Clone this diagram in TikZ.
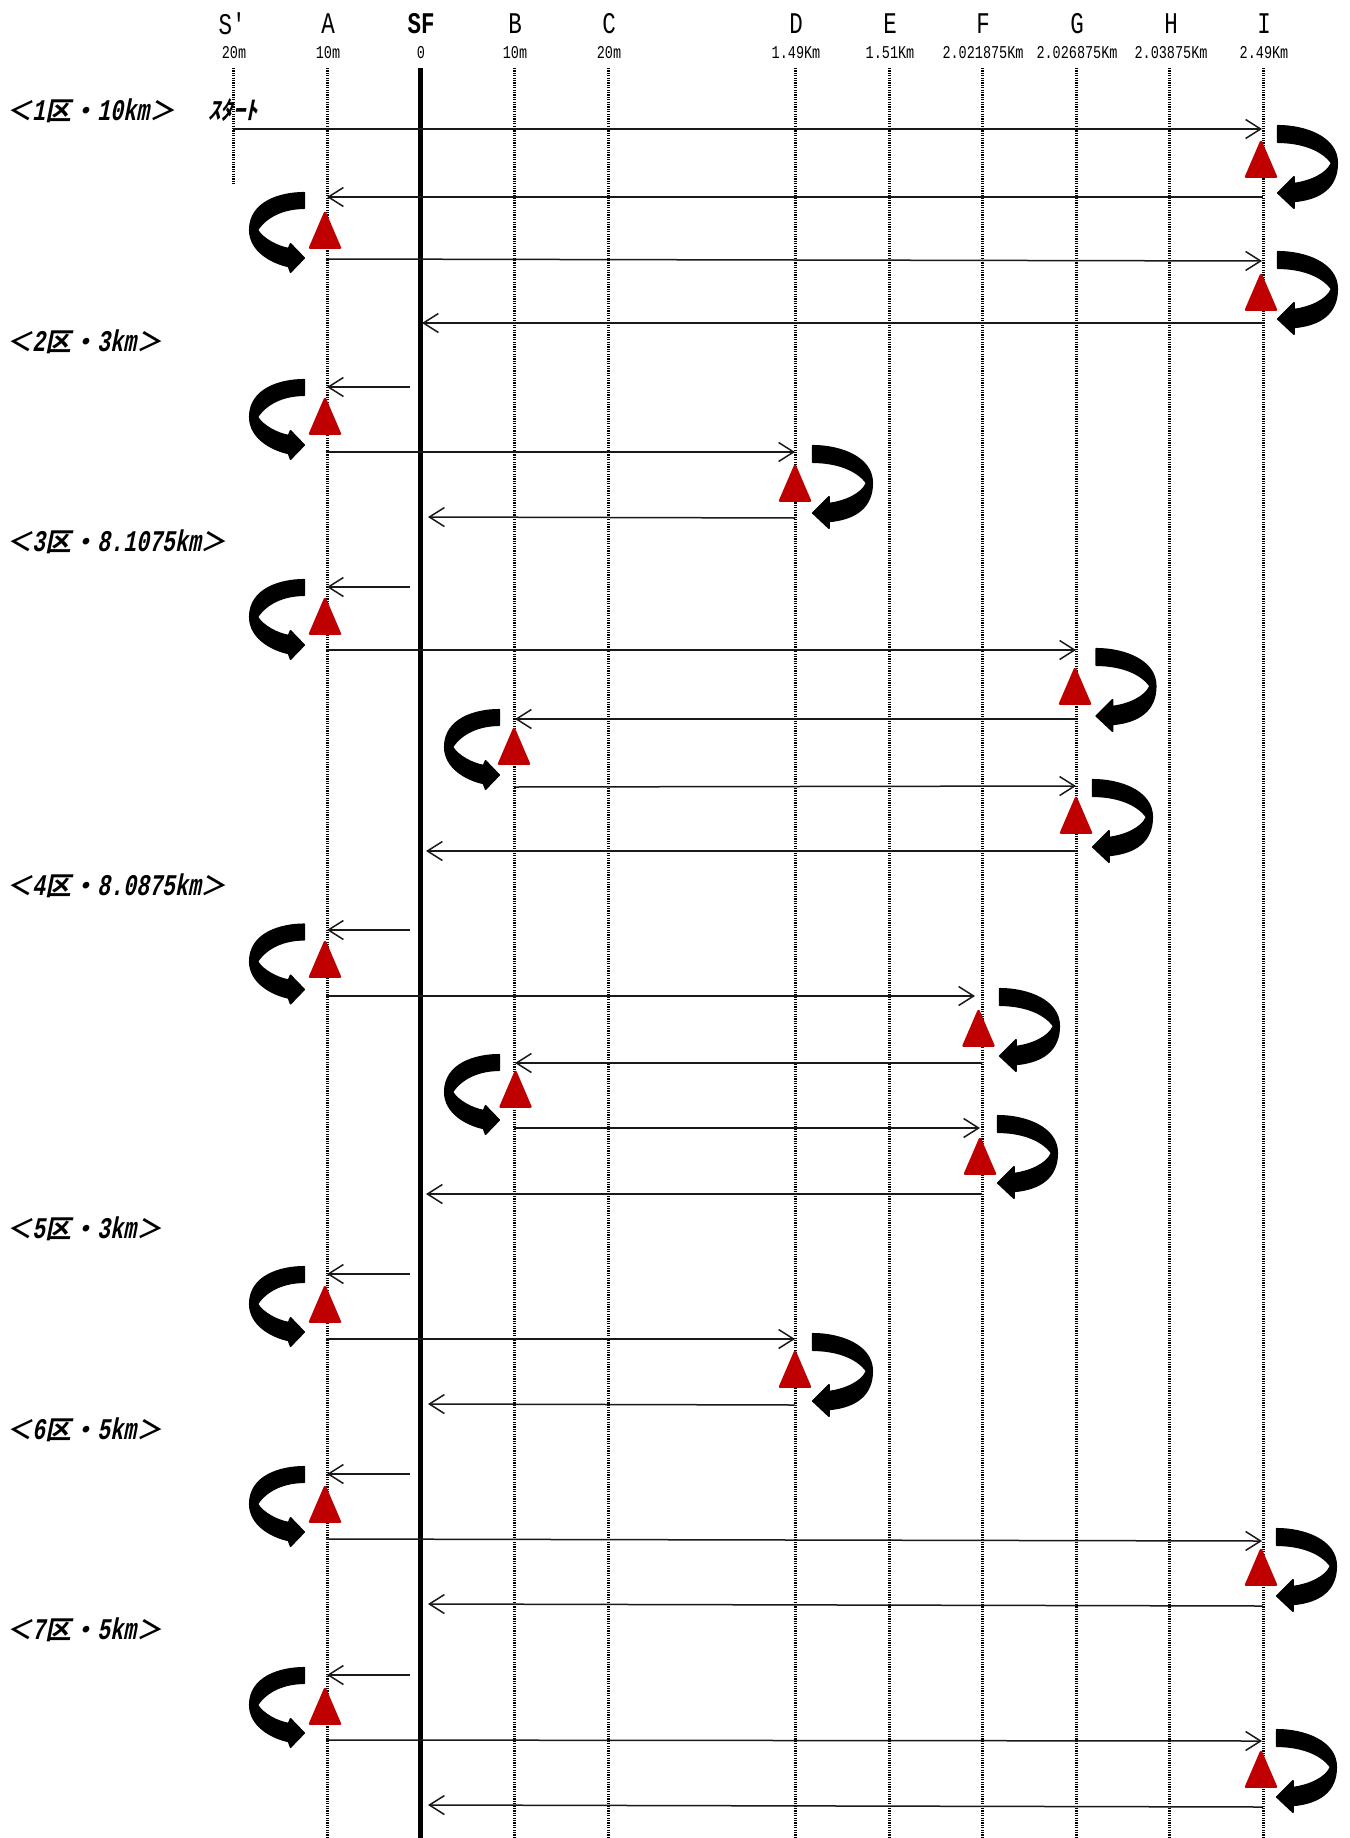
\documentclass[tikz,border=0pt]{standalone}
\usepackage{fontspec}
\usetikzlibrary{arrows.meta}
\newfontfamily\hdfont[FakeStretch=0.75]{Liberation Mono}
\newfontfamily\hdbold[FakeStretch=0.75]{Liberation Mono Bold}
\newfontfamily\seclat[FakeStretch=0.72,FakeSlant=0.2]{Liberation Mono Bold}
\newfontfamily\secjp[FakeSlant=0.2]{Noto Sans CJK JP Bold}
\newcommand{\secl}[2]{{\fontsize{26}{26}\selectfont\secjp ＜}{\fontsize{30}{30}\selectfont\seclat #1}{\fontsize{26}{26}\selectfont\secjp 区・}{\fontsize{30}{30}\selectfont\seclat #2}{\fontsize{26}{26}\selectfont\secjp ＞}}
\definecolor{tricol}{HTML}{C00000}
\tikzset{
  axisline/.style={line width=3pt,dash pattern=on 1.2pt off 1.2pt,black},
  sfline/.style={line width=5pt,black},
  conn/.style={line width=1.5pt,draw=black!90,-{Straight Barb[length=15pt,width=19pt,line width=1.5pt]}},
  headtxt/.style={font=\hdfont\fontsize{30}{30}\selectfont,inner sep=0pt,anchor=center},
  headbold/.style={font=\hdbold\fontsize{30}{30}\selectfont,inner sep=0pt,anchor=center},
  subtxt/.style={font=\hdfont\fontsize{18}{18}\selectfont,inner sep=0pt,anchor=center},
  sectxt/.style={inner sep=0pt,anchor=west},
  starttxt/.style={inner sep=0pt,anchor=center,font=\secjp\fontsize{25}{25}\selectfont},
  uturn/.style={fill=black,draw=black,line width=1.5pt,line join=round},
  triangle/.pic={\fill[fill=tricol,draw=tricol,line width=2.5pt,line join=round] (0,1)--(-14.9,35.7)--(14.9,35.7)--cycle;},
  uright/.pic={\path[uturn] (0.7,0.7) .. controls (28,0.7) and (60.3,12) .. (60.3,38) .. controls (60.3,62) and (44,74) .. (17,76.5) -- (17,83.3) -- (0.7,68) -- (17,51.7) -- (17,58.5) .. controls (33,56.5) and (50,49) .. (54.5,38) .. controls (44,23.5) and (22,17.3) .. (0.7,17.3) -- cycle;},
  uleft/.pic={\path[uturn] (-0.7,0.7) .. controls (-25,0.7) and (-55.3,10) .. (-55.3,38) .. controls (-55.3,58) and (-35,70.5) .. (-16.5,74.5) -- (-14.5,80.3) -- (-0.7,66) -- (-14.5,51.7) -- (-16.5,56.5) .. controls (-28,54.5) and (-42,47) .. (-47.5,38) .. controls (-38,23.5) and (-20,16.3) .. (-0.7,16.3) -- cycle;}
}
\newcommand{\arr}[5]{\coordinate (#1s) at (#2,#3); \coordinate (#1e) at (#4,#5); \draw[conn] (#1s) -- (#1e);}
\begin{document}
\begin{tikzpicture}[x=1pt,y=-1pt]
\useasboundingbox (0,0) rectangle (1349,1838);
\fill[white] (0,0) rectangle (1349,1838);
% headers
\node[headtxt] (hS) at (232,24) {S'};
\node[headtxt] (hA) at (328,24) {A};
\node[headbold] (hSF) at (421,24) {SF};
\node[headtxt] (hB) at (515,24) {B};
\node[headtxt] (hC) at (609,24) {C};
\node[headtxt] (hD) at (796,24) {D};
\node[headtxt] (hE) at (890,24) {E};
\node[headtxt] (hF) at (983,24) {F};
\node[headtxt] (hG) at (1077,24) {G};
\node[headtxt] (hH) at (1171,24) {H};
\node[headtxt] (hI) at (1264,24) {I};
\node[subtxt] (dS) at (234,53) {20m};
\node[subtxt] (dA) at (328,53) {10m};
\node[subtxt] (dSF) at (421,53) {0};
\node[subtxt] (dB) at (515,53) {10m};
\node[subtxt] (dC) at (609,53) {20m};
\node[subtxt] (dD) at (796,53) {1.49Km};
\node[subtxt] (dE) at (890,53) {1.51Km};
\node[subtxt] (dF) at (983,53) {2.021875Km};
\node[subtxt] (dG) at (1077,53) {2.026875Km};
\node[subtxt] (dH) at (1171,53) {2.03875Km};
\node[subtxt] (dI) at (1264,53) {2.49Km};
% axes
\coordinate (tS) at (233.5,68); \coordinate (bS) at (233.5,185);
\draw[axisline] (tS) -- (bS);
\foreach \n/\x in {A/327,B/514.5,C/608,D/795,E/889,F/982.5,G/1076,H/1169.5,I/1263}{
  \coordinate (t\n) at (\x,68); \coordinate (b\n) at (\x,1838);
  \draw[axisline] (t\n) -- (b\n);
}
\coordinate (tSF) at (420,68); \coordinate (bSF) at (420,1838);
\draw[sfline] (tSF) -- (bSF);
% section labels
\node[sectxt] (s1) at (6,111) {\secl{1}{10km}};
\node[sectxt] (s2) at (6,342) {\secl{2}{3km}};
\node[sectxt] (s3) at (6,542) {\secl{3}{8.1075km}};
\node[sectxt] (s4) at (6,886) {\secl{4}{8.0875km}};
\node[sectxt] (s5) at (6,1229) {\secl{5}{3km}};
\node[sectxt] (s6) at (6,1430) {\secl{6}{5km}};
\node[sectxt] (s7) at (6,1630) {\secl{7}{5km}};
\node[starttxt] (st) at (233,110) {ｽﾀｰﾄ};
% connectors
\arr{a1}{233}{129}{1262}{129}
\arr{a2}{1263}{197}{327}{197}
\arr{a3}{326}{259}{1262}{261}
\arr{a4}{1263}{323}{422}{323}
\arr{b1}{410}{387}{327}{387}
\arr{b2}{326}{452}{795}{452}
\arr{b3}{795}{518}{428}{517}
\arr{c1}{410}{587}{327}{587}
\arr{c2}{326}{650}{1076}{650}
\arr{c3}{1076}{719}{515}{719}
\arr{c4}{514}{787}{1076}{786}
\arr{c5}{1076}{851}{426}{851}
\arr{d1}{410}{930}{327}{930}
\arr{d2}{326}{996}{975}{996}
\arr{d3}{982}{1063}{515}{1063}
\arr{d4}{514}{1128}{980}{1128}
\arr{d5}{982}{1194}{426}{1194}
\arr{e1}{410}{1274}{327}{1274}
\arr{e2}{326}{1339}{795}{1339}
\arr{e3}{795}{1405}{428}{1404}
\arr{f1}{410}{1474}{327}{1474}
\arr{f2}{326}{1539}{1262}{1541}
\arr{f3}{1263}{1606}{428}{1604}
\arr{g1}{410}{1675}{327}{1675}
\arr{g2}{326}{1740}{1262}{1741}
\arr{g3}{1263}{1807}{428}{1805}
% triangles
\foreach \i/\x/\y in {1/1261/141,2/325/212,3/1261/274,4/325/398,5/795/465,6/325/598,7/1075/668,8/514/728,9/1076/797,10/325/941,11/978.5/1010,12/515.5/1071,13/980/1138,14/325/1286,15/795/1351,16/325/1486,17/1261/1549,18/325/1688,19/1261/1751}{
  \pic (tri\i) at (\x,\y) {triangle};
}
% U-turns
\foreach \i/\x/\y in {1/1277/125,2/1277/251,3/812/445,4/1095.5/648,5/1092/779,6/999/988,7/997/1115,8/812/1333,9/1276/1528,10/1276/1729}{
  \pic (ur\i) at (\x,\y) {uright};
}
\foreach \i/\x/\y in {1/305/192,2/305/379,3/305/579,4/500/709,5/305/923.5,6/500/1054,7/305/1266,8/305/1466,9/305/1667}{
  \pic (ul\i) at (\x,\y) {uleft};
}
\end{tikzpicture}
\end{document}
